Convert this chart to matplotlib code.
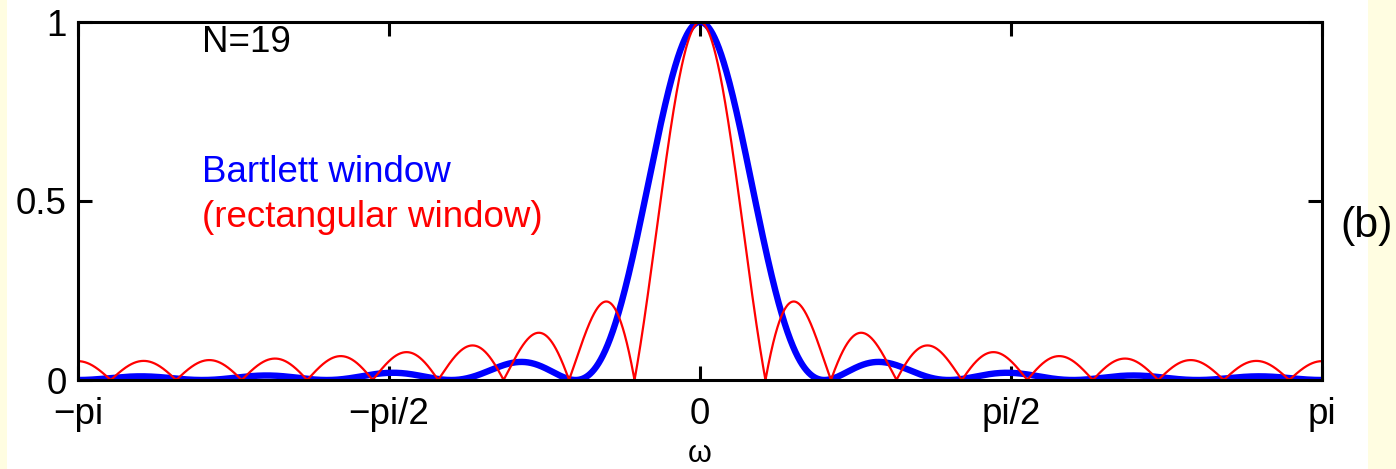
import numpy as np
import matplotlib.pyplot as plt
from matplotlib.patches import Rectangle

plt.rcParams['font.family'] = ['Liberation Sans', 'DejaVu Sans']

# window samples (N=19)
N = 19
rect_window = [1, 1, 1, 1, 1, 1, 1, 1, 1, 1, 1, 1, 1, 1, 1, 1, 1, 1, 1]
bartlett_window = [0.1, 0.2, 0.3, 0.4, 0.5, 0.6, 0.7, 0.8, 0.9, 1.0,
                   0.9, 0.8, 0.7, 0.6, 0.5, 0.4, 0.3, 0.2, 0.1]
xtick_labels = ['\u2212pi', '\u2212pi/2', '0', 'pi/2', 'pi']
ytick_labels = ['0', '0.5', '1']

def spectrum(w, nfft=4096):
    w = np.asarray(w, dtype=float)
    W = np.abs(np.fft.fftshift(np.fft.fft(w, nfft))) / w.sum()
    om = np.fft.fftshift(np.fft.fftfreq(nfft)) * 2 * np.pi
    # close the period at +pi
    return np.append(om, np.pi), np.append(W, W[0])

om_r, W_r = spectrum(rect_window)
om_b, W_b = spectrum(bartlett_window)

fig = plt.figure(figsize=(13.96, 4.69), dpi=100, facecolor='#fffde1')
fig.patches.append(Rectangle((7/1396, 0), (1368-7)/1396, 1, transform=fig.transFigure,
                             facecolor='white', edgecolor='none', zorder=-10))
ax = fig.add_axes([78/1396, 89/469, 1244/1396, 358/469])

ax.plot(om_b, W_b, color='#0000ff', lw=4.6)
ax.plot(om_r, W_r, color='#ff0000', lw=1.6)

ax.set_xlim(-np.pi, np.pi)
ax.set_ylim(0, 1)
ax.set_xticks([-np.pi, -np.pi/2, 0, np.pi/2, np.pi])
ax.set_xticklabels(xtick_labels)
ax.set_yticks([0, 0.5, 1])
ax.set_yticklabels(ytick_labels)
ax.tick_params(direction='in', length=10, width=2.2, labelsize=26.5,
               top=True, right=True)
ax.tick_params(axis='x', pad=12)
ax.tick_params(axis='y', pad=8)
for s in ax.spines.values():
    s.set_linewidth(2.2)

ax.text(0.1, 0.916, 'N=19', transform=ax.transAxes, fontsize=26.5, color='black')
ax.text(0.1, 0.553, 'Bartlett window', transform=ax.transAxes, fontsize=26.5, color='#0000ff')
ax.text(0.1, 0.427, '(rectangular window)', transform=ax.transAxes, fontsize=26.5, color='#ff0000')

fig.text(1340/1396, (469-226)/469, '(b)', fontsize=31, va='center', ha='left')
fig.text(700/1396, 0, '\u03c9', fontsize=22, va='bottom', ha='center')

fig.savefig('out.png', dpi=100, facecolor=fig.get_facecolor())
